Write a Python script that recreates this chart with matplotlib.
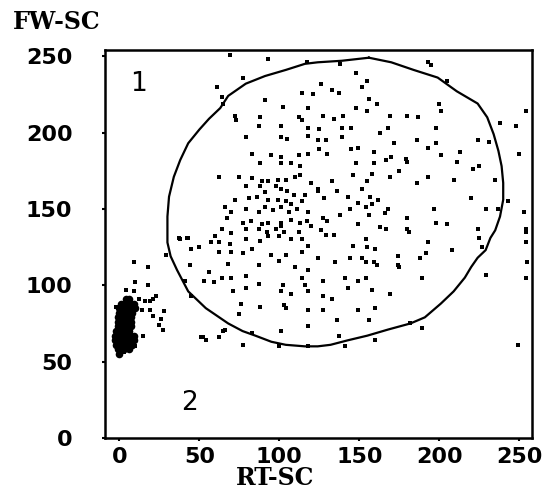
import matplotlib
matplotlib.use("Agg")
import matplotlib.pyplot as plt

# gate outline (RT-SC, FW-SC), traced clockwise from the top
gate_x = [156, 170, 184, 199, 211, 224, 230, 234, 237, 239, 240, 240, 238, 235,
          232, 229, 224, 220, 216, 209, 201, 191, 182, 168, 155, 143, 132, 124,
          116, 104, 95, 85, 77, 68, 61, 54, 48, 43, 40, 36, 32, 30, 30, 30, 31,
          34, 38, 43, 50, 56, 63, 68, 79, 91, 104, 116, 124, 139, 156]
gate_y = [249, 246, 241, 236, 227, 219, 210, 199, 188, 178, 167, 156, 145, 136,
          131, 123, 118, 112, 105, 96, 88, 79, 75, 71, 67, 64, 61, 60, 60, 61,
          63, 67, 70, 75, 80, 85, 91, 96, 102, 110, 119, 128, 136, 145, 158,
          171, 182, 193, 202, 209, 216, 224, 232, 237, 241, 245, 246, 247, 249]

# dense low-scatter cluster (region 2)
blob = [
    (4, 91), (6, 91),
    (1, 88), (3, 88), (5, 88), (7, 88), (9, 88),
    (0, 85), (2, 85), (4, 85), (6, 85), (8, 85), (10, 85),
    (0, 82), (2, 82), (4, 82), (6, 82), (8, 82),
    (-1, 79), (1, 79), (3, 79), (5, 79), (7, 79),
    (-1, 76), (1, 76), (3, 76), (5, 76), (7, 76),
    (-1, 73), (1, 73), (3, 73), (5, 73), (7, 73),
    (-2, 70), (0, 70), (2, 70), (4, 70), (6, 70),
    (-3, 67), (-1, 67), (1, 67), (3, 67), (5, 67), (7, 67), (9, 67),
    (-3, 64), (-1, 64), (1, 64), (3, 64), (5, 64), (7, 64), (9, 64),
    (-2, 61), (0, 61), (2, 61), (4, 61), (6, 61), (8, 61),
    (-1, 58), (1, 58), (3, 58), (6, 58),
    (0, 55),
]
blob_x = [p[0] for p in blob]
blob_y = [p[1] for p in blob]

# scattered debris next to the cluster
debris = [
    (9, 115), (18, 112), (10, 102), (18, 100), (4, 97), (9, 96), (12, 91),
    (16, 90), (19, 90), (21, 91), (23, 93), (-2, 86), (14, 84), (19, 84),
    (28, 83), (21, 80), (26, 78), (25, 74), (27, 71), (15, 67), (3, 56),
    (7, 61), (10, 60), (29, 120), (38, 130), (42, 131),
]
debris_x = [p[0] for p in debris]
debris_y = [p[1] for p in debris]

# main population (region 1) and stray events near the border
cells = [
    (69, 251), (93, 248), (77, 236), (61, 230), (64, 223), (65, 219), (193, 246),
    (195, 244), (205, 234), (254, 214), (248, 204), (250, 186), (238, 206),
    (243, 155), (253, 148), (254, 137), (254, 128), (255, 115), (254, 105),
    (249, 61), (138, 245), (117, 246),
    (126, 232), (148, 239), (155, 234), (152, 230), (114, 226), (121, 225),
    (133, 228), (137, 226), (91, 221), (156, 222), (161, 219), (148, 216),
    (201, 214), (200, 219), (102, 217), (118, 216), (88, 210), (112, 210),
    (114, 208), (127, 211), (140, 211), (134, 209), (155, 214), (169, 211),
    (180, 211), (187, 210), (72, 211), (73, 208), (87, 204), (101, 204),
    (118, 203), (125, 202), (139, 203), (145, 203), (168, 203), (198, 203),
    (79, 197), (101, 197), (105, 196), (118, 198), (124, 195), (129, 195),
    (139, 197), (163, 200), (172, 193), (186, 195), (198, 193), (224, 195),
    (231, 194), (83, 186), (95, 185), (101, 184), (112, 185), (118, 186),
    (125, 189), (130, 186), (145, 189), (149, 190), (159, 187), (170, 184),
    (179, 183), (193, 190), (201, 185), (213, 187), (225, 178), (180, 181),
    (88, 180), (101, 180), (107, 180), (113, 178), (148, 180), (159, 180),
    (167, 182), (211, 181), (175, 175), (193, 171), (209, 169), (221, 176),
    (235, 169), (62, 171), (75, 171), (83, 170), (89, 168), (93, 168),
    (99, 169), (104, 169), (110, 171), (113, 172), (120, 167), (124, 163),
    (133, 168), (146, 172), (158, 173), (169, 171), (186, 167), (79, 165),
    (88, 165), (91, 161), (98, 165), (101, 163), (105, 162), (109, 159),
    (116, 159), (124, 162), (128, 157), (136, 162), (143, 158), (152, 163),
    (155, 168), (72, 156), (81, 157), (86, 158), (93, 156), (99, 156),
    (104, 155), (107, 153), (114, 155), (157, 158), (162, 156), (220, 157),
    (229, 150), (197, 150), (237, 150), (66, 151), (70, 148), (79, 150),
    (87, 148), (91, 151), (96, 149), (101, 151), (106, 148), (111, 150),
    (118, 148), (144, 150), (154, 151), (168, 150), (149, 154), (158, 153),
    (67, 144), (77, 141), (82, 142), (89, 140), (93, 141), (101, 141),
    (107, 143), (113, 141), (117, 142), (127, 144), (130, 142), (138, 146),
    (156, 146), (166, 147), (180, 144), (198, 141), (205, 140), (180, 137),
    (181, 135), (64, 137), (70, 134), (79, 137), (87, 137), (92, 135),
    (98, 137), (101, 139), (103, 135), (112, 135), (120, 139), (126, 136),
    (149, 140), (163, 138), (167, 137), (224, 137), (225, 131), (254, 135),
    (37, 131), (43, 131), (60, 132), (62, 128), (69, 127), (79, 130),
    (88, 129), (93, 132), (100, 132), (107, 130), (114, 130), (118, 126),
    (129, 133), (134, 133), (154, 130), (146, 126), (155, 125), (160, 124),
    (208, 123), (193, 128), (227, 125), (45, 124), (50, 125), (57, 128),
    (62, 122), (70, 122), (77, 121), (83, 124), (95, 120), (104, 120),
    (114, 122), (124, 118), (144, 118), (152, 118), (154, 115), (161, 113),
    (174, 119), (174, 113), (188, 118), (192, 121), (44, 113), (68, 114),
    (87, 113), (100, 116), (110, 112), (118, 110), (135, 115), (159, 115),
    (56, 109), (64, 105), (70, 105), (59, 102), (53, 103), (79, 106),
    (87, 101), (102, 100), (114, 105), (116, 100), (127, 103), (141, 105),
    (149, 103), (154, 105), (189, 105), (229, 107), (175, 112), (41, 103),
    (71, 96), (79, 98), (101, 96), (107, 94), (118, 96), (127, 93), (133, 91),
    (143, 98), (158, 97), (169, 94), (45, 93), (76, 88), (88, 86), (103, 87),
    (104, 85), (118, 84), (127, 84), (149, 84), (160, 85), (75, 81), (136, 77),
    (156, 77), (182, 75), (189, 72), (118, 73), (101, 70), (83, 69), (65, 70),
    (62, 66), (52, 66), (77, 61), (100, 60), (141, 60), (160, 64), (137, 67),
    (51, 66), (54, 64), (66, 71), (118, 60),
]
cells_x = [p[0] for p in cells]
cells_y = [p[1] for p in cells]

x_ticks = [0, 50, 100, 150, 200, 250]
y_ticks = [0, 50, 100, 150, 200, 250]

fig = plt.figure(figsize=(5.53, 4.91), dpi=100)
ax = fig.add_axes([0.190, 0.108, 0.772, 0.790])

ax.plot(gate_x, gate_y, color="black", lw=1.6, solid_joinstyle="round")
ax.scatter(cells_x, cells_y, s=6, marker="s", color="black", linewidths=0)
ax.scatter(debris_x, debris_y, s=6, marker="s", color="black", linewidths=0)
ax.scatter(blob_x, blob_y, s=30, marker="o", color="black", linewidths=0)

ax.text(12, 232, "1", fontsize=19, ha="center", va="center")
ax.text(44, 23, "2", fontsize=19, ha="center", va="center")

ax.set_xlim(-9, 258)
ax.set_ylim(0, 254)
ax.set_xticks(x_ticks)
ax.set_yticks(y_ticks)
for s in ax.spines.values():
    s.set_linewidth(1.8)
ax.tick_params(direction="out", length=2.5, width=1.5, labelsize=16)
ax.tick_params(axis="y", pad=21)
ax.tick_params(axis="x", pad=4)
for lab in ax.get_xticklabels() + ax.get_yticklabels():
    lab.set_fontweight("bold")

fig.text(0.024, 0.955, "FW-SC", fontsize=17, fontweight="bold",
         family="DejaVu Serif", ha="left", va="center")
fig.text(0.497, 0.026, "RT-SC", fontsize=17, fontweight="bold",
         family="DejaVu Serif", ha="center", va="center")

fig.savefig("out.png", dpi=100)
